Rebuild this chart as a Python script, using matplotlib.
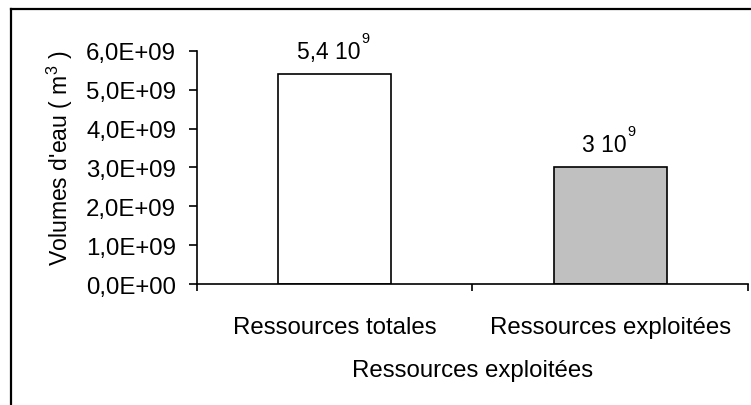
import matplotlib.pyplot as plt
from matplotlib.lines import Line2D
from matplotlib.ticker import FuncFormatter

categories = ['Ressources totales', 'Ressources exploitées']
volumes = [5.4e9, 3.0e9]
bar_labels = ['5,4 10', '3 10']
bar_exponents = ['9', '9']
bar_colors = ['white', '#c0c0c0']

plt.rcParams['font.family'] = 'Liberation Sans'
plt.rcParams['mathtext.fontset'] = 'custom'
plt.rcParams['mathtext.rm'] = 'Liberation Sans'
plt.rcParams['font.size'] = 17.3

fig = plt.figure(figsize=(7.51, 4.06), dpi=100)
ax = fig.add_axes([0.2623, 0.298, 0.7337, 0.574])

x = range(len(categories))
bars = ax.bar(x, volumes, width=0.41, color=bar_colors, edgecolor='black', linewidth=1.2)

# value labels "a 10^9" with a raised small exponent
for b, lab, ex in zip(bars, bar_labels, bar_exponents):
    t = ax.annotate(lab, (b.get_x() + b.get_width() / 2, b.get_height()),
                    xytext=(-4.5, 12), textcoords='offset points',
                    ha='center', va='baseline', fontsize=16.5)
    ax.annotate(ex, (1, 0), xycoords=t, xytext=(0.5, 15), textcoords='offset points',
                ha='left', va='baseline', fontsize=10.5)

ax.set_xlim(-0.5, 1.5)
ax.set_ylim(0, 6e9)
ax.set_yticks([i * 1e9 for i in range(7)])
ax.yaxis.set_major_formatter(FuncFormatter(lambda v, p: f'{v:.1E}'.replace('.', ',')))

# Excel style: tick marks between categories, labels at centres
ax.set_xticks([-0.5, 0.5, 1.5])
ax.set_xticklabels(['', '', ''])
ax.set_xticks(list(x), minor=True)
ax.set_xticklabels(categories, minor=True)
ax.tick_params(axis='x', which='major', direction='out', length=5, width=1.2)
ax.tick_params(axis='x', which='minor', length=0, pad=23)
ax.tick_params(axis='y', direction='out', length=6, width=1.2, pad=9)

for s in ['top', 'right']:
    ax.spines[s].set_visible(False)
for s in ['left', 'bottom']:
    ax.spines[s].set_linewidth(1.2)

ax.set_ylabel(r"Volumes d'eau ( m$^{\mathregular{3}}$ )", fontsize=16.6)
ax.yaxis.set_label_coords(-0.222, 0.545)
ax.set_xlabel('Ressources exploitées', labelpad=15)

# outer chart frame (top and left edges visible)
fig.add_artist(Line2D([0.0146, 1.0], [0.976, 0.976], color='black', linewidth=1.6))
fig.add_artist(Line2D([0.0146, 0.0146], [0.0, 0.976], color='black', linewidth=1.6))

fig.savefig('out.png', dpi=100)
